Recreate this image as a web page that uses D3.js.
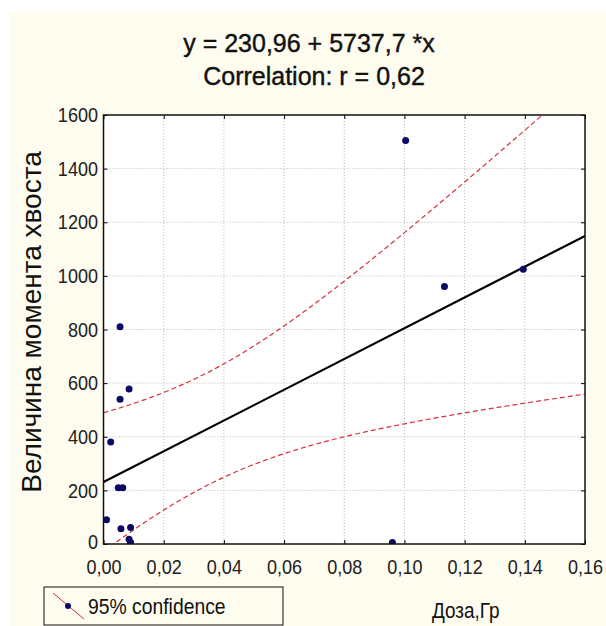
<!DOCTYPE html>
<html>
<head>
<meta charset="utf-8">
<script src="https://cdn.jsdelivr.net/npm/d3@7"></script>
<style>
  html, body { margin: 0; padding: 0; background: #fff; }
  svg { display: block; font-family: "Liberation Sans", Arial, sans-serif; }
</style>
</head>
<body>
<div id="chart"></div>
<script>
// dose (Gy) and tail moment
const doseX   = [0.0055, 0.0055, 0.0085, 0.0024, 0.0049, 0.0064, 0.0010, 0.0058, 0.0090, 0.0085, 0.0090, 0.1004, 0.1133, 0.1395, 0.0960];
const momentY = [810, 540, 578, 380, 210, 210, 90, 57, 62, 18, 6, 1505, 960, 1025, 6];

const xTicks = [0, 0.02, 0.04, 0.06, 0.08, 0.10, 0.12, 0.14, 0.16];
const yTicks = [0, 200, 400, 600, 800, 1000, 1200, 1400, 1600];

// fit from the title
const intercept = 230.96;
const slope = 5737.7;
const tCrit = 2.160; // t(0.975, n-2 = 13)

const titleLines = ["y = 230,96 + 5737,7 *x", "Correlation: r = 0,62"];
const yTitle = "Величина момента хвоста";
const xTitle = "Доза,Гр";
const legendLabel = "95% confidence";

const width = 606, height = 626;
const margin = { left: 103.5, top: 115, right: 21, bottom: 82 };
const plotW = width - margin.left - margin.right;
const plotH = height - margin.top - margin.bottom;
const narrow = 0.86; // the original font is a condensed sans

const svg = d3.select("#chart").append("svg")
    .attr("width", width)
    .attr("height", height);

// cream page background
svg.append("rect").attr("x", 10).attr("y", 12)
    .attr("width", width - 10).attr("height", height - 12)
    .attr("fill", "#fefbef");

const x = d3.scaleLinear().domain([0, 0.16]).range([margin.left, margin.left + plotW]);
const y = d3.scaleLinear().domain([0, 1600]).range([margin.top + plotH, margin.top]);

const commaLocale = d3.formatLocale({ decimal: ",", thousands: "", grouping: [3], currency: ["", ""] });
const fmtX = commaLocale.format(".2f");

// plot area
svg.append("rect")
    .attr("x", margin.left).attr("y", margin.top)
    .attr("width", plotW).attr("height", plotH)
    .attr("fill", "#fff");

svg.append("clipPath").attr("id", "plotClip")
    .append("rect")
    .attr("x", margin.left).attr("y", margin.top)
    .attr("width", plotW).attr("height", plotH);

// grid
const grid = svg.append("g").attr("stroke", "#b8b8b8").attr("stroke-dasharray", "1,2").attr("stroke-width", 1);
grid.selectAll("line.gx")
    .data(xTicks.slice(1, -1))
    .join("line")
    .attr("class", "gx")
    .attr("x1", d => x(d)).attr("x2", d => x(d))
    .attr("y1", margin.top).attr("y2", margin.top + plotH);
grid.selectAll("line.gy")
    .data(yTicks.slice(1, -1))
    .join("line")
    .attr("class", "gy")
    .attr("x1", margin.left).attr("x2", margin.left + plotW)
    .attr("y1", d => y(d)).attr("y2", d => y(d));

// confidence bands computed from the points
const n = doseX.length;
const xMean = d3.mean(doseX);
const sxx = d3.sum(doseX, v => (v - xMean) ** 2);
const sse = d3.sum(doseX, (v, i) => (momentY[i] - (intercept + slope * v)) ** 2);
const s = Math.sqrt(sse / (n - 2));
const bandX = x.ticks(200);
const half = v => tCrit * s * Math.sqrt(1 / n + (v - xMean) ** 2 / sxx);

const plotG = svg.append("g").attr("clip-path", "url(#plotClip)");

const bandLine = sign => d3.line()
    .x(d => x(d))
    .y(d => y(intercept + slope * d + sign * half(d)));

[1, -1].forEach(sign => {
    plotG.append("path")
        .datum(bandX)
        .attr("d", bandLine(sign))
        .attr("fill", "none")
        .attr("stroke", "#d8303c")
        .attr("stroke-width", 1.2)
        .attr("stroke-dasharray", "5,3");
});

// regression line
plotG.append("line")
    .attr("x1", x(0)).attr("y1", y(intercept))
    .attr("x2", x(0.16)).attr("y2", y(intercept + slope * 0.16))
    .attr("stroke", "#000")
    .attr("stroke-width", 2.2);

// points
plotG.selectAll("circle")
    .data(doseX.map((v, i) => ({ x: v, y: momentY[i] })))
    .join("circle")
    .attr("cx", d => x(d.x))
    .attr("cy", d => y(d.y))
    .attr("r", 3.5)
    .attr("fill", "#0a0a66");

// inner ticks on all four sides
svg.append("g").attr("transform", `translate(0,${margin.top + plotH})`)
    .call(d3.axisBottom(x).tickValues(xTicks).tickSize(-4).tickFormat(""))
    .call(g => g.select(".domain").remove());
svg.append("g").attr("transform", `translate(0,${margin.top})`)
    .call(d3.axisTop(x).tickValues(xTicks).tickSize(-4).tickFormat(""))
    .call(g => g.select(".domain").remove());
svg.append("g").attr("transform", `translate(${margin.left},0)`)
    .call(d3.axisLeft(y).tickValues(yTicks).tickSize(-4).tickFormat(""))
    .call(g => g.select(".domain").remove());
svg.append("g").attr("transform", `translate(${margin.left + plotW},0)`)
    .call(d3.axisRight(y).tickValues(yTicks).tickSize(-4).tickFormat(""))
    .call(g => g.select(".domain").remove());

// tick labels
svg.append("g").attr("transform", `translate(0,${margin.top + plotH})`)
    .call(d3.axisBottom(x).tickValues(xTicks).tickSize(0).tickPadding(15).tickFormat(fmtX))
    .call(g => g.select(".domain").remove())
    .selectAll("text")
    .attr("font-size", 21)
    .attr("font-family", "Liberation Sans, Arial, sans-serif")
    .attr("fill", "#222")
    .attr("transform", `scale(${narrow},1)`);

svg.append("g").attr("transform", `translate(${margin.left},0)`)
    .call(d3.axisLeft(y).tickValues(yTicks).tickSize(0).tickPadding(5.5).tickFormat(d3.format("d")))
    .call(g => g.select(".domain").remove())
    .selectAll("text")
    .attr("font-size", 21)
    .attr("font-family", "Liberation Sans, Arial, sans-serif")
    .attr("fill", "#222")
    .attr("x", -5.5 / narrow)
    .attr("dy", (d, i) => i === 0 ? "0.2em" : "0.32em")
    .attr("transform", `scale(${narrow},1)`);

// frame
svg.append("rect")
    .attr("x", margin.left).attr("y", margin.top)
    .attr("width", plotW).attr("height", plotH)
    .attr("fill", "none")
    .attr("stroke", "#111")
    .attr("stroke-width", 1.5);

// title
svg.append("text").attr("x", 309).attr("y", 52)
    .attr("text-anchor", "middle").attr("font-size", 25).attr("fill", "#111")
    .attr("stroke", "#111").attr("stroke-width", 0.4)
    .text(titleLines[0]);
svg.append("text").attr("x", 314).attr("y", 85)
    .attr("text-anchor", "middle").attr("font-size", 25).attr("fill", "#111")
    .attr("stroke", "#111").attr("stroke-width", 0.4)
    .text(titleLines[1]);

// y title
svg.append("text")
    .attr("transform", `translate(41,322) rotate(-90)`)
    .attr("text-anchor", "middle").attr("font-size", 28).attr("fill", "#111")
    .text(yTitle);

// x title
svg.append("text")
    .attr("transform", `translate(432,618) scale(${narrow},1)`)
    .attr("font-size", 22).attr("fill", "#111")
    .text(xTitle);

// legend
const lg = svg.append("g");
lg.append("rect").attr("x", 44).attr("y", 587).attr("width", 239).attr("height", 38)
    .attr("fill", "none").attr("stroke", "#111").attr("stroke-width", 1);
lg.append("line").attr("x1", 53).attr("y1", 593).attr("x2", 84).attr("y2", 619)
    .attr("stroke", "#d8303c").attr("stroke-width", 1);
lg.append("circle").attr("cx", 68).attr("cy", 606).attr("r", 3).attr("fill", "#0a0a66");
lg.append("text")
    .attr("transform", `translate(88,614) scale(${narrow},1)`)
    .attr("font-size", 22.5).attr("fill", "#111")
    .text(legendLabel);
</script>
</body>
</html>
